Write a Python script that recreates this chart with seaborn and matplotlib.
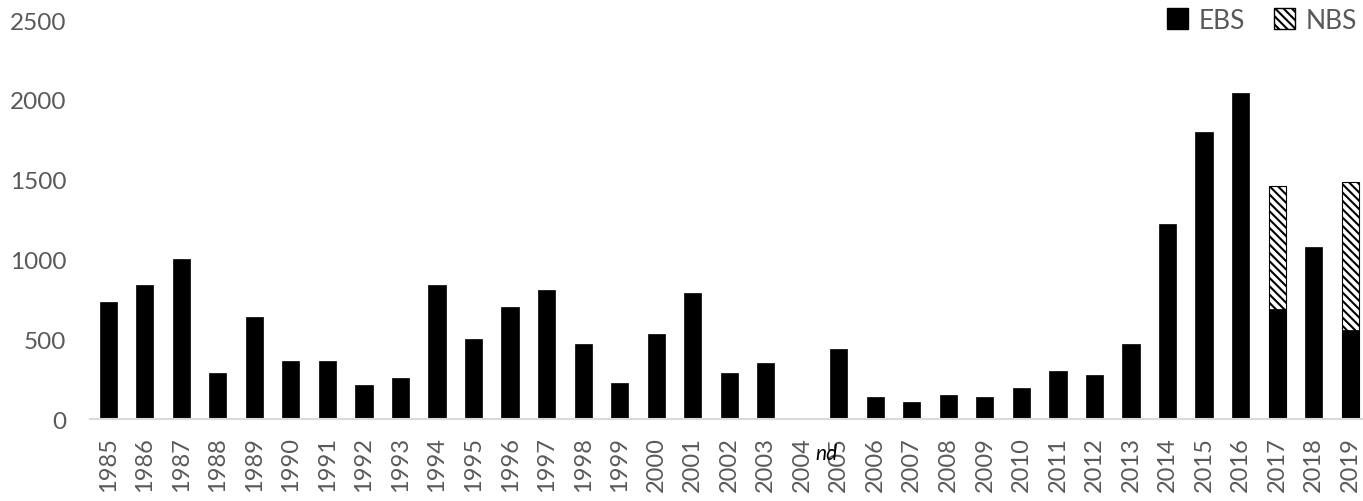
import numpy as np
import matplotlib
matplotlib.use("Agg")
import matplotlib.pyplot as plt
import seaborn as sns
from matplotlib.patches import Patch

# data
years = [str(y) for y in range(1985, 2020)]
ebs = [735, 840, 1005, 288, 638, 364, 364, 213, 259, 840,
       502, 700, 807, 470, 226, 531, 792, 288, 349, np.nan,
       441, 136, 105, 150, 136, 196, 303, 276, 470, 1221,
       1801, 2044, 690, 1080, 560]
nbs = [np.nan] * 32 + [769, np.nan, 928]
yticks = [0, 500, 1000, 1500, 2000, 2500]
nd_label = "nd"

grey = "#595959"
hatch = "\\\\\\\\"

sns.set_style("white")
plt.rcParams["font.family"] = ["Lato", "DejaVu Sans"]
plt.rcParams["hatch.linewidth"] = 1.5

fig = plt.figure(figsize=(13.63, 5.02), dpi=100)
ax = fig.add_axes([0.066, 0.163, 0.938, 0.795])

# stacked: draw total (hatched) first, then EBS over it
tot = [e + n if not np.isnan(n) else np.nan for e, n in zip(ebs, nbs)]
sns.barplot(x=years, y=tot, order=years, color="white", saturation=1,
            edgecolor="black", linewidth=0.8, hatch=hatch, width=0.47, ax=ax)
sns.barplot(x=years, y=ebs, order=years, color="black", saturation=1,
            edgecolor="black", linewidth=0.5, width=0.47, ax=ax)

ax.set_ylim(0, 2500)
ax.set_yticks(yticks)
ax.set_yticklabels([str(t) for t in yticks])
ax.set_xlim(-0.5, len(years) - 0.5)
ax.tick_params(axis="y", length=0, pad=17, labelsize=17.5, labelcolor=grey)
ax.tick_params(axis="x", length=0, pad=12, labelsize=17, labelcolor=grey,
               rotation=90)
ax.set_xlabel("")
ax.set_ylabel("")

for s in ["top", "right", "left"]:
    ax.spines[s].set_visible(False)
ax.spines["bottom"].set_color("#d9d9d9")
ax.spines["bottom"].set_linewidth(1.5)

# no data for 2004
ax.text(19.67, -0.085, nd_label, transform=ax.get_xaxis_transform(),
        ha="center", va="center", fontsize=15, style="italic", color="black")

handles = [Patch(facecolor="black", edgecolor="black", label="EBS"),
           Patch(facecolor="white", edgecolor="black", hatch=hatch, label="NBS")]
fig.legend(handles=handles, loc="upper right", bbox_to_anchor=(1.013, 1.03),
           ncol=2, frameon=False, fontsize=19, labelcolor=grey,
           handlelength=0.8, handleheight=0.8, handletextpad=0.4,
           columnspacing=1.1)

fig.savefig("out.png", dpi=100)
